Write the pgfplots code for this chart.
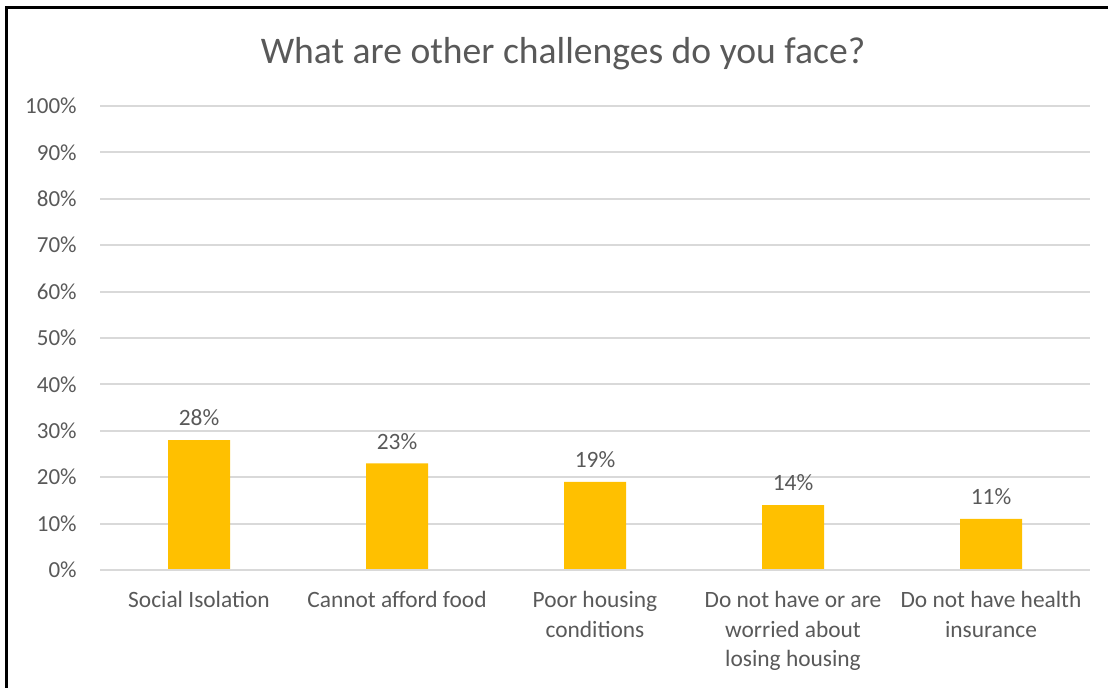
\documentclass[border=0pt]{standalone}
\usepackage{pgfplots}
\pgfplotsset{compat=1.18}
\usepackage{fontspec}
\setmainfont{Carlito}
\definecolor{txt}{HTML}{595959}
\definecolor{gridc}{HTML}{D9D9D9}
\definecolor{barc}{HTML}{FFC000}
\begin{document}
\begin{tikzpicture}
\begin{axis}[
  scale only axis,
  width=495pt, height=232pt,
  at={(50pt,58.5pt)}, anchor=south west,
  xmin=-0.5, xmax=4.5, ymin=0, ymax=100,
  axis line style={draw=none},
  xmajorgrids=false, ymajorgrids=true,
  grid style={draw=gridc, line width=1pt},
  ytick={0,10,...,100},
  yticklabels={0\%,10\%,20\%,30\%,40\%,50\%,60\%,70\%,80\%,90\%,100\%},
  yticklabel style={font=\fontsize{11.5pt}{14pt}\selectfont, color=txt, inner sep=0pt, anchor=east, xshift=-11.5pt},
  xtick={0,1,2,3,4},
  xticklabels={Social Isolation,Cannot afford food,Poor housing\\conditions,Do not have or are\\worried about\\losing housing,Do not have health\\insurance},
  xticklabel style={font=\fontsize{11.7pt}{14.7pt}\selectfont, color=txt, align=center, inner sep=0pt, anchor=north, yshift=-10.5pt},
  major tick length=0pt,
  ybar, bar width=31pt,
  nodes near coords={\pgfmathprintnumber[assume math mode=true]{\pgfplotspointmeta}\%},
  nodes near coords style={font=\fontsize{11.7pt}{14pt}\selectfont, color=txt, yshift=3.5pt},
  clip=false,
]
\addplot[fill=barc, draw=none] coordinates {(0,28) (1,23) (2,19) (3,14) (4,11)};
\draw[gridc, line width=1pt] (axis cs:-0.5,0) -- (axis cs:4.5,0);
\end{axis}
\node[color=txt, font=\fontsize{18.8pt}{22pt}\selectfont] at (281.5pt,316.5pt) {What are other challenges do you face?};
\draw[line width=1.2pt] (3.25pt,-5pt) -- (3.25pt,339.75pt) -- (560pt,339.75pt);
\pgfresetboundingbox
\path[use as bounding box] (0,0) rectangle (554pt,343.5pt);
\end{tikzpicture}
\end{document}
